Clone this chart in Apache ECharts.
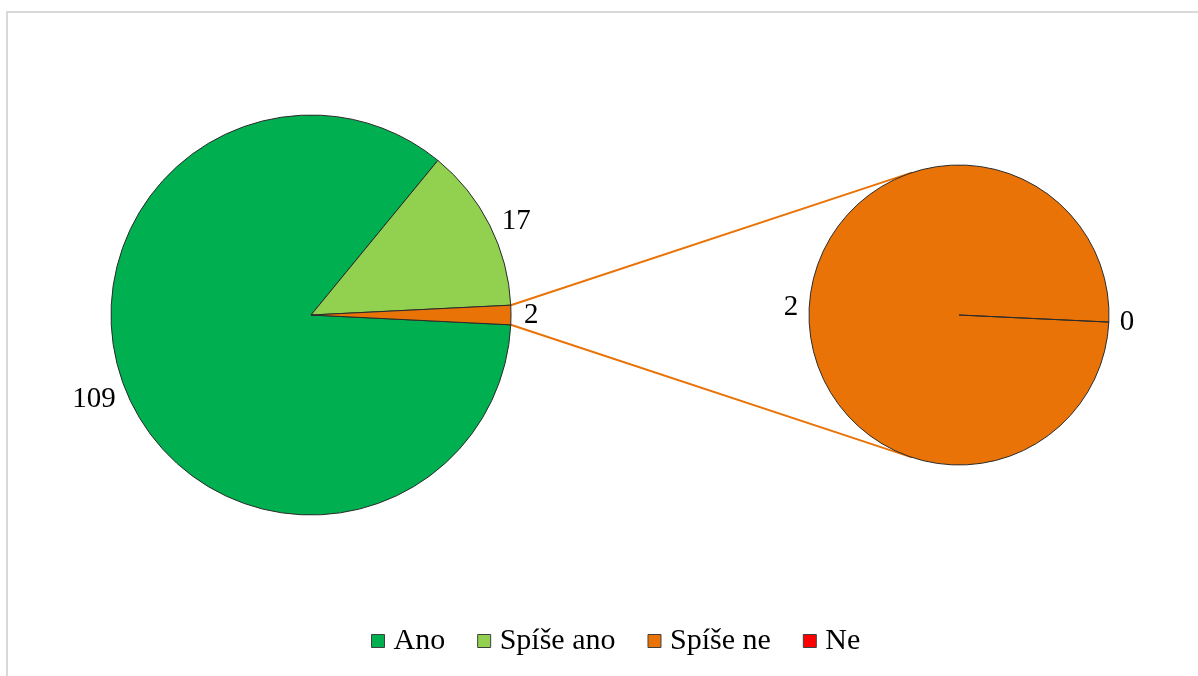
<!DOCTYPE html>
<html>
<head>
<meta charset="utf-8">
<script src="https://cdn.jsdelivr.net/npm/echarts@6/dist/echarts.min.js"></script>
<style>
  html, body { margin: 0; padding: 0; background: #fff; }
  #chart { width: 1198px; height: 676px; }
</style>
</head>
<body>
<div id="chart"></div>
<script>
// data
const categories = ['Ano', 'Spíše ano', 'Spíše ne', 'Ne'];
const mainValues = [109, 17, 2];
const subValues = [2, 0];
const colors = ['#00b050', '#92d050', '#e97306', '#ff0000'];

// layout
const mainC = [311, 315], mainR = 200;
const subC = [959, 315], subR = 150;

const total = mainValues.reduce((a, b) => a + b, 0);
// orange slice centred on the horizontal axis
const half = mainValues[2] / total * 180;
const mainStart = 360 - half;

// connector lines: from ends of the split slice, tangent to the second pie
function tangent(p, up) {
  const dx = p[0] - subC[0], dy = p[1] - subC[1];
  const d = Math.sqrt(dx * dx + dy * dy);
  const base = Math.atan2(dy, dx);
  const a = Math.acos(subR / d);
  const ang = up ? base + a : base - a;
  return [subC[0] + subR * Math.cos(ang), subC[1] + subR * Math.sin(ang)];
}
const rad = half * Math.PI / 180;
const pTop = [mainC[0] + mainR * Math.cos(rad), mainC[1] - mainR * Math.sin(rad)];
const pBot = [mainC[0] + mainR * Math.cos(rad), mainC[1] + mainR * Math.sin(rad)];
const tTop = tangent(pTop, true);
const tBot = tangent(pBot, false);

let chartDom = document.getElementById('chart');
let myChart = echarts.init(chartDom);

const font = 'Liberation Serif';
const labelStyle = {
  show: true,
  position: 'outside',
  formatter: '{c}',
  color: '#000',
  fontFamily: font,
  fontSize: 29
};

let option = {
  animation: false,
  backgroundColor: '#fff',
  color: colors,
  legend: {
    bottom: 15,
    left: 366,
    data: categories,
    itemWidth: 13,
    itemHeight: 13,
    itemGap: 32,
    icon: 'rect',
    itemStyle: { borderColor: '#404040', borderWidth: 1 },
    textStyle: { fontFamily: font, fontSize: 30, color: '#000', padding: [0, 0, 0, 4] }
  },
  graphic: [
    {
      type: 'polyline',
      shape: { points: [[7, 700], [7, 12], [1220, 12]] },
      style: { stroke: '#d9d9d9', lineWidth: 2, fill: null },
      silent: true
    },
    {
      type: 'line',
      shape: { x1: pTop[0], y1: pTop[1], x2: tTop[0], y2: tTop[1] },
      style: { stroke: colors[2], lineWidth: 2 },
      silent: true, z: 1
    },
    {
      type: 'line',
      shape: { x1: pBot[0], y1: pBot[1], x2: tBot[0], y2: tBot[1] },
      style: { stroke: colors[2], lineWidth: 2 },
      silent: true, z: 1
    }
  ],
  series: [
    {
      name: 'main',
      type: 'pie',
      center: mainC,
      radius: [0, mainR],
      startAngle: mainStart,
      clockwise: true,
      avoidLabelOverlap: false,
      label: labelStyle,
      labelLine: { show: false, length: 8, length2: 0 },
      itemStyle: { borderColor: '#2b2b2b', borderWidth: 1 },
      emphasis: { disabled: true },
      data: mainValues.map((v, i) => ({
        name: categories[i], value: v, itemStyle: { color: colors[i] }
      }))
    },
    {
      name: 'sub',
      type: 'pie',
      center: subC,
      radius: [0, subR],
      startAngle: 357.3,
      clockwise: true,
      avoidLabelOverlap: false,
      stillShowZeroSum: true,
      label: labelStyle,
      labelLine: { show: false, length: 6, length2: 0 },
      itemStyle: { borderColor: '#2b2b2b', borderWidth: 1 },
      emphasis: { disabled: true },
      data: subValues.map((v, i) => ({
        name: categories[i + 2], value: v, itemStyle: { color: colors[i + 2] }
      }))
    }
  ]
};

option && myChart.setOption(option);
</script>
</body>
</html>
